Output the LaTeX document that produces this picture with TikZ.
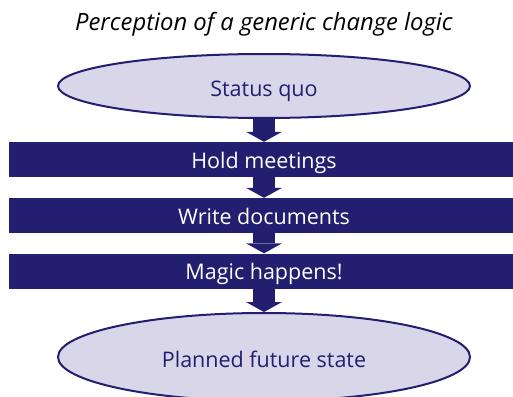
\documentclass[tikz,border=0pt]{standalone}
\usepackage{fontspec}
\setmainfont{Open Sans}
\usetikzlibrary{shapes.geometric,arrows.meta}
\definecolor{navy}{RGB}{35,31,112}
\definecolor{lav}{RGB}{217,214,233}

\tikzset{
  state/.style={ellipse, draw=navy, fill=lav, line width=2pt, text=navy,
    minimum width=412pt, inner sep=0pt, text height=21pt, text depth=0pt},
  bar/.style={rectangle, fill=navy, text=white, minimum width=510pt,
    minimum height=35pt, inner sep=0pt, text height=17pt, text depth=0pt},
  flow/.style={navy, line width=22pt,
    -{Triangle[width=36pt,length=10pt,line width=0pt]}}
}

\begin{document}
\begin{tikzpicture}[x=1pt,y=-1pt,font=\fontsize{21.5}{25}\selectfont]
        \useasboundingbox (0,0) rectangle (513,396);
        \clip (0,0) rectangle (513,396);

        \node[anchor=base, font=\fontsize{23.8}{28}\selectfont\itshape] (title) at (264,30.5) {Perception of a generic change logic};

        \node[state, minimum height=64pt] (quo) at (264,86) {Status quo};
        \node[bar] (meet) at (264,159.5) {Hold meetings};
        \node[bar] (docs) at (264,215.5) {Write documents};
        \node[bar] (magic) at (264,271) {Magic happens!};
        \node[state, minimum height=88pt] (goal) at (264,357) {Planned future state};

        \draw[flow] (quo.south) -- (meet.north);
        \draw[flow] (meet.south) -- (docs.north);
        \draw[flow] (docs.south) -- (magic.north);
        \draw[flow] (magic.south) -- (goal.north);
\end{tikzpicture}
\end{document}
